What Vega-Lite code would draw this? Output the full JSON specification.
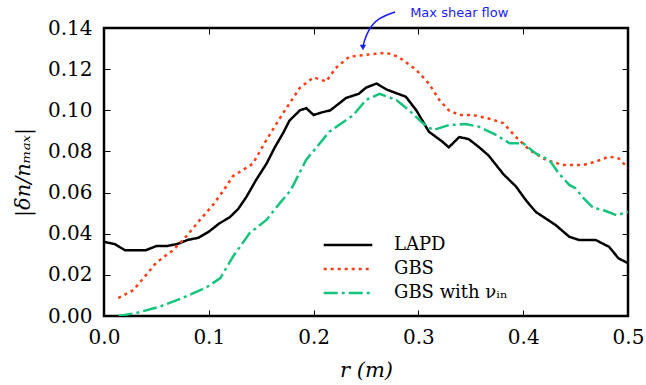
{
  "$schema": "https://vega.github.io/schema/vega-lite/v6.json",
  "width": 524,
  "height": 288,
  "autosize": "none",
  "padding": {"left": 104, "top": 28, "right": 18, "bottom": 69},
  "background": "white",
  "config": {
    "view": {"stroke": "black", "strokeWidth": 2.5},
    "font": "DejaVu Serif",
    "axis": {"labelFont": "DejaVu Serif", "titleFont": "DejaVu Serif", "labelFlush": false, "labelOverlap": false}
  },
  "datasets": {
    "curves": [
      {"r": 0.000, "v": 0.036, "s": "LAPD"},
      {"r": 0.010, "v": 0.035, "s": "LAPD"},
      {"r": 0.020, "v": 0.032, "s": "LAPD"},
      {"r": 0.030, "v": 0.032, "s": "LAPD"},
      {"r": 0.040, "v": 0.032, "s": "LAPD"},
      {"r": 0.050, "v": 0.034, "s": "LAPD"},
      {"r": 0.060, "v": 0.034, "s": "LAPD"},
      {"r": 0.070, "v": 0.035, "s": "LAPD"},
      {"r": 0.080, "v": 0.037, "s": "LAPD"},
      {"r": 0.090, "v": 0.038, "s": "LAPD"},
      {"r": 0.100, "v": 0.041, "s": "LAPD"},
      {"r": 0.110, "v": 0.045, "s": "LAPD"},
      {"r": 0.120, "v": 0.048, "s": "LAPD"},
      {"r": 0.128, "v": 0.052, "s": "LAPD"},
      {"r": 0.136, "v": 0.058, "s": "LAPD"},
      {"r": 0.145, "v": 0.066, "s": "LAPD"},
      {"r": 0.155, "v": 0.074, "s": "LAPD"},
      {"r": 0.163, "v": 0.082, "s": "LAPD"},
      {"r": 0.171, "v": 0.089, "s": "LAPD"},
      {"r": 0.177, "v": 0.095, "s": "LAPD"},
      {"r": 0.187, "v": 0.100, "s": "LAPD"},
      {"r": 0.193, "v": 0.101, "s": "LAPD"},
      {"r": 0.200, "v": 0.0977, "s": "LAPD"},
      {"r": 0.208, "v": 0.099, "s": "LAPD"},
      {"r": 0.216, "v": 0.100, "s": "LAPD"},
      {"r": 0.231, "v": 0.106, "s": "LAPD"},
      {"r": 0.243, "v": 0.108, "s": "LAPD"},
      {"r": 0.250, "v": 0.111, "s": "LAPD"},
      {"r": 0.260, "v": 0.113, "s": "LAPD"},
      {"r": 0.270, "v": 0.110, "s": "LAPD"},
      {"r": 0.288, "v": 0.1066, "s": "LAPD"},
      {"r": 0.298, "v": 0.100, "s": "LAPD"},
      {"r": 0.310, "v": 0.0896, "s": "LAPD"},
      {"r": 0.323, "v": 0.0847, "s": "LAPD"},
      {"r": 0.329, "v": 0.082, "s": "LAPD"},
      {"r": 0.339, "v": 0.087, "s": "LAPD"},
      {"r": 0.348, "v": 0.086, "s": "LAPD"},
      {"r": 0.358, "v": 0.082, "s": "LAPD"},
      {"r": 0.367, "v": 0.078, "s": "LAPD"},
      {"r": 0.381, "v": 0.069, "s": "LAPD"},
      {"r": 0.393, "v": 0.063, "s": "LAPD"},
      {"r": 0.403, "v": 0.056, "s": "LAPD"},
      {"r": 0.412, "v": 0.0506, "s": "LAPD"},
      {"r": 0.431, "v": 0.0442, "s": "LAPD"},
      {"r": 0.444, "v": 0.0385, "s": "LAPD"},
      {"r": 0.453, "v": 0.037, "s": "LAPD"},
      {"r": 0.469, "v": 0.037, "s": "LAPD"},
      {"r": 0.482, "v": 0.0336, "s": "LAPD"},
      {"r": 0.491, "v": 0.028, "s": "LAPD"},
      {"r": 0.500, "v": 0.0257, "s": "LAPD"},
      {"r": 0.0136, "v": 0.0087, "s": "GBS"},
      {"r": 0.028, "v": 0.0126, "s": "GBS"},
      {"r": 0.037, "v": 0.018, "s": "GBS"},
      {"r": 0.050, "v": 0.026, "s": "GBS"},
      {"r": 0.066, "v": 0.032, "s": "GBS"},
      {"r": 0.079, "v": 0.039, "s": "GBS"},
      {"r": 0.0915, "v": 0.0467, "s": "GBS"},
      {"r": 0.104, "v": 0.054, "s": "GBS"},
      {"r": 0.114, "v": 0.061, "s": "GBS"},
      {"r": 0.123, "v": 0.068, "s": "GBS"},
      {"r": 0.142, "v": 0.074, "s": "GBS"},
      {"r": 0.155, "v": 0.0856, "s": "GBS"},
      {"r": 0.171, "v": 0.0987, "s": "GBS"},
      {"r": 0.187, "v": 0.111, "s": "GBS"},
      {"r": 0.200, "v": 0.116, "s": "GBS"},
      {"r": 0.212, "v": 0.114, "s": "GBS"},
      {"r": 0.221, "v": 0.1205, "s": "GBS"},
      {"r": 0.234, "v": 0.126, "s": "GBS"},
      {"r": 0.250, "v": 0.127, "s": "GBS"},
      {"r": 0.269, "v": 0.128, "s": "GBS"},
      {"r": 0.281, "v": 0.126, "s": "GBS"},
      {"r": 0.298, "v": 0.1196, "s": "GBS"},
      {"r": 0.310, "v": 0.113, "s": "GBS"},
      {"r": 0.320, "v": 0.105, "s": "GBS"},
      {"r": 0.329, "v": 0.100, "s": "GBS"},
      {"r": 0.339, "v": 0.0977, "s": "GBS"},
      {"r": 0.352, "v": 0.0977, "s": "GBS"},
      {"r": 0.367, "v": 0.096, "s": "GBS"},
      {"r": 0.381, "v": 0.0938, "s": "GBS"},
      {"r": 0.393, "v": 0.087, "s": "GBS"},
      {"r": 0.406, "v": 0.0807, "s": "GBS"},
      {"r": 0.422, "v": 0.0758, "s": "GBS"},
      {"r": 0.438, "v": 0.0734, "s": "GBS"},
      {"r": 0.457, "v": 0.0734, "s": "GBS"},
      {"r": 0.469, "v": 0.075, "s": "GBS"},
      {"r": 0.482, "v": 0.0775, "s": "GBS"},
      {"r": 0.491, "v": 0.0766, "s": "GBS"},
      {"r": 0.500, "v": 0.072, "s": "GBS"},
      {"r": 0.014, "v": 0.000, "s": "GBS with νᵢₙ"},
      {"r": 0.031, "v": 0.0015, "s": "GBS with νᵢₙ"},
      {"r": 0.053, "v": 0.0045, "s": "GBS with νᵢₙ"},
      {"r": 0.076, "v": 0.009, "s": "GBS with νᵢₙ"},
      {"r": 0.098, "v": 0.014, "s": "GBS with νᵢₙ"},
      {"r": 0.111, "v": 0.0184, "s": "GBS with νᵢₙ"},
      {"r": 0.123, "v": 0.0288, "s": "GBS with νᵢₙ"},
      {"r": 0.139, "v": 0.0403, "s": "GBS with νᵢₙ"},
      {"r": 0.155, "v": 0.0467, "s": "GBS with νᵢₙ"},
      {"r": 0.168, "v": 0.055, "s": "GBS with νᵢₙ"},
      {"r": 0.178, "v": 0.061, "s": "GBS with νᵢₙ"},
      {"r": 0.193, "v": 0.076, "s": "GBS with νᵢₙ"},
      {"r": 0.202, "v": 0.0815, "s": "GBS with νᵢₙ"},
      {"r": 0.215, "v": 0.0896, "s": "GBS with νᵢₙ"},
      {"r": 0.238, "v": 0.0977, "s": "GBS with νᵢₙ"},
      {"r": 0.250, "v": 0.105, "s": "GBS with νᵢₙ"},
      {"r": 0.263, "v": 0.108, "s": "GBS with νᵢₙ"},
      {"r": 0.279, "v": 0.105, "s": "GBS with νᵢₙ"},
      {"r": 0.291, "v": 0.100, "s": "GBS with νᵢₙ"},
      {"r": 0.304, "v": 0.0938, "s": "GBS with νᵢₙ"},
      {"r": 0.314, "v": 0.0904, "s": "GBS with νᵢₙ"},
      {"r": 0.329, "v": 0.0928, "s": "GBS with νᵢₙ"},
      {"r": 0.345, "v": 0.0933, "s": "GBS with νᵢₙ"},
      {"r": 0.358, "v": 0.092, "s": "GBS with νᵢₙ"},
      {"r": 0.374, "v": 0.088, "s": "GBS with νᵢₙ"},
      {"r": 0.387, "v": 0.084, "s": "GBS with νᵢₙ"},
      {"r": 0.400, "v": 0.084, "s": "GBS with νᵢₙ"},
      {"r": 0.412, "v": 0.079, "s": "GBS with νᵢₙ"},
      {"r": 0.425, "v": 0.0758, "s": "GBS with νᵢₙ"},
      {"r": 0.434, "v": 0.0693, "s": "GBS with νᵢₙ"},
      {"r": 0.444, "v": 0.0637, "s": "GBS with νᵢₙ"},
      {"r": 0.450, "v": 0.062, "s": "GBS with νᵢₙ"},
      {"r": 0.458, "v": 0.057, "s": "GBS with νᵢₙ"},
      {"r": 0.467, "v": 0.0525, "s": "GBS with νᵢₙ"},
      {"r": 0.476, "v": 0.0516, "s": "GBS with νᵢₙ"},
      {"r": 0.489, "v": 0.049, "s": "GBS with νᵢₙ"},
      {"r": 0.500, "v": 0.0506, "s": "GBS with νᵢₙ"}
    ],
    "arrow": [
      {"r": 0.2777, "v": 0.1478, "k": 0},
      {"r": 0.2615, "v": 0.1449, "k": 1},
      {"r": 0.2519, "v": 0.1390, "k": 2},
      {"r": 0.2481, "v": 0.1332, "k": 3},
      {"r": 0.2471, "v": 0.1310, "k": 4}
    ],
    "tip": [{"r": 0.2471, "v": 0.1305}],
    "note": [{"r": 0.339, "v": 0.1473, "label": "Max shear flow"}]
  },
  "resolve": {"axis": {"x": "independent", "y": "independent"}},
  "layer": [
    {
      "data": {"name": "curves"},
      "mark": {"type": "line", "strokeWidth": 2.5, "clip": true},
      "encoding": {
        "x": {"field": "r", "type": "quantitative", "scale": {"domain": [0, 0.5], "nice": false, "zero": false},
              "axis": {"orient": "bottom", "offset": -6, "values": [0, 0.1, 0.2, 0.3, 0.4, 0.5], "format": ".1f", "domain": false, "grid": false, "ticks": true, "tickColor": "black", "tickWidth": 1, "tickSize": 6, "labelFlush": false, "labelFont": "DejaVu Serif", "labelFontSize": 20, "labelColor": "black", "labelPadding": 11, "title": "r (m)", "titleFont": "DejaVu Serif", "titleFontSize": 21, "titleFontWeight": "normal", "titleFontStyle": "italic", "titleColor": "black", "titlePadding": 12}},
        "y": {"field": "v", "type": "quantitative", "scale": {"domain": [0, 0.14], "nice": false},
              "axis": {"orient": "left", "offset": -6, "values": [0, 0.02, 0.04, 0.06, 0.08, 0.1, 0.12, 0.14], "format": ".2f", "domain": false, "grid": false, "ticks": true, "tickColor": "black", "tickWidth": 1, "tickSize": 6, "labelFlush": false, "labelFont": "DejaVu Serif", "labelFontSize": 20, "labelColor": "black", "labelPadding": 12, "title": "|δn/nₘₐₓ|", "titleFont": "DejaVu Serif", "titleFontSize": 21, "titleFontWeight": "normal", "titleFontStyle": "italic", "titleColor": "black", "titlePadding": 14}},
        "color": {"field": "s", "type": "nominal",
                  "scale": {"domain": ["LAPD", "GBS", "GBS with νᵢₙ"], "range": ["#000000", "#ff3c14", "#14c47c"]},
                  "legend": {"orient": "none", "legendX": 229, "legendY": 202, "title": null, "symbolType": "M-1.8,0L1.8,0", "symbolSize": 729, "symbolStrokeWidth": 2.5, "symbolFillColor": "transparent", "labelFont": "DejaVu Serif", "labelFontSize": 18, "labelColor": "black", "labelOffset": 31, "rowPadding": 0}},
        "strokeDash": {"field": "s", "type": "nominal",
                  "scale": {"domain": ["LAPD", "GBS", "GBS with νᵢₙ"], "range": [[1, 0], [3, 4], [14, 4, 3, 4]]},
                  "legend": {"orient": "none", "legendX": 229, "legendY": 202, "title": null, "symbolType": "M-1.8,0L1.8,0", "symbolSize": 729, "symbolStrokeWidth": 2.5, "symbolFillColor": "transparent", "labelFont": "DejaVu Serif", "labelFontSize": 18, "labelColor": "black", "labelOffset": 31, "rowPadding": 0}}
      }
    },
    {
      "data": {"name": "arrow"},
      "mark": {"type": "line", "color": "#1a1aff", "strokeWidth": 1.5, "interpolate": "basis"},
      "encoding": {
        "x": {"field": "r", "type": "quantitative",
              "axis": {"orient": "top", "offset": -6, "values": [0, 0.1, 0.2, 0.3, 0.4, 0.5], "labels": false, "title": null, "domain": false, "grid": false, "tickColor": "black", "tickWidth": 1, "tickSize": 6}},
        "y": {"field": "v", "type": "quantitative",
              "axis": {"orient": "right", "offset": -6, "values": [0, 0.02, 0.04, 0.06, 0.08, 0.1, 0.12, 0.14], "labels": false, "title": null, "domain": false, "grid": false, "tickColor": "black", "tickWidth": 1, "tickSize": 6}},
        "order": {"field": "k"}
      }
    },
    {
      "data": {"name": "tip"},
      "mark": {"type": "point", "shape": "triangle-down", "filled": true, "color": "#1a1aff", "size": 40, "opacity": 1},
      "encoding": {
        "x": {"field": "r", "type": "quantitative", "axis": null},
        "y": {"field": "v", "type": "quantitative", "axis": null}
      }
    },
    {
      "data": {"name": "note"},
      "mark": {"type": "text", "font": "DejaVu Sans", "fontSize": 13, "color": "#1a1aff", "align": "center", "baseline": "middle"},
      "encoding": {
        "x": {"field": "r", "type": "quantitative", "axis": null},
        "y": {"field": "v", "type": "quantitative", "axis": null},
        "text": {"field": "label"}
      }
    }
  ]
}
